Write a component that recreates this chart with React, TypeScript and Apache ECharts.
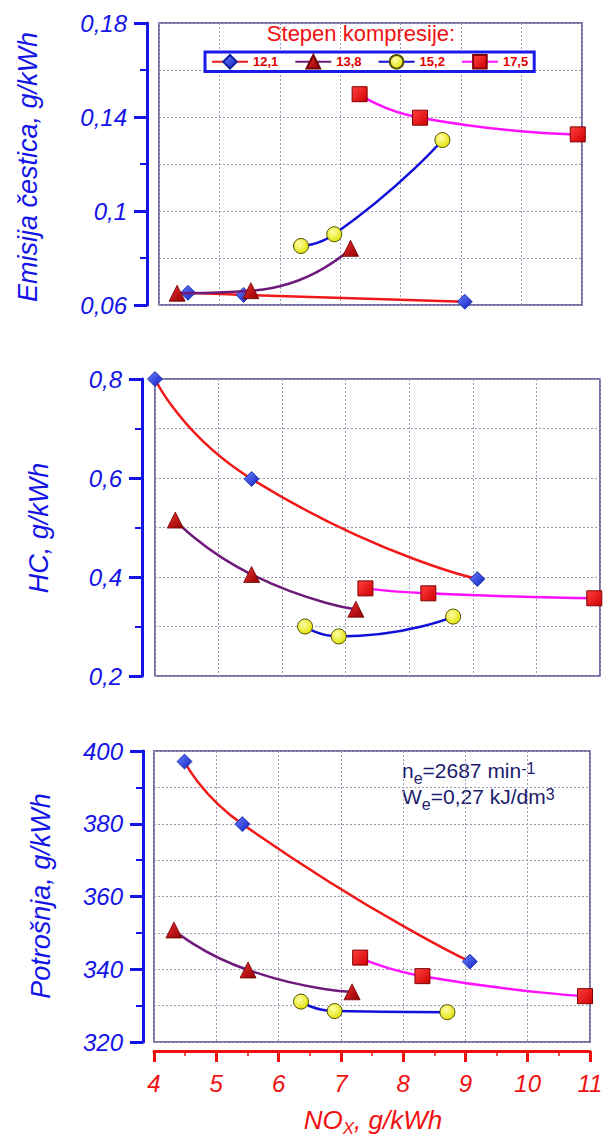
import React, { useEffect, useRef } from 'react';
import * as echarts from 'echarts';

// Compression ratios (legend)
const seriesNames = ['12,1', '13,8', '15,2', '17,5'];

// NOx values (x) and emissions for each chart, one row per compression ratio
const pmNOx = [
  [4.48, 5.40, 9.06],
  [4.30, 5.52, 7.17],
  [6.35, 6.90, 8.69],
  [7.32, 8.32, 10.93],
];
const pmValues = [
  [0.0652, 0.0643, 0.0614],
  [0.0650, 0.0661, 0.0841],
  [0.0851, 0.0901, 0.1302],
  [0.1497, 0.1397, 0.1326],
];

const hcNOx = [
  [4.00, 5.52, 9.07],
  [4.32, 5.52, 7.16],
  [6.36, 6.89, 8.69],
  [7.31, 8.30, 10.91],
];
const hcValues = [
  [0.800, 0.598, 0.396],
  [0.515, 0.405, 0.335],
  [0.300, 0.280, 0.320],
  [0.377, 0.367, 0.357],
];

const fuelNOx = [
  [4.49, 5.42, 9.07],
  [4.32, 5.51, 7.18],
  [6.36, 6.90, 8.71],
  [7.31, 8.31, 10.92],
];
const fuelValues = [
  [397.1, 379.9, 342.1],
  [350.8, 339.8, 333.8],
  [331.1, 328.5, 328.2],
  [343.2, 338.1, 332.6],
];

const xTicks = [4, 5, 6, 7, 8, 9, 10, 11];

const FONT = '"Liberation Sans", Arial, sans-serif';
const BLUE = '#1414e6';
const RED = '#f01010';
const NAVY = '#44448c';
const GRID = '#9a9ab0';

const lineColors = ['#f01818', '#6e1a7a', '#1010d8', '#ff10ff'];
const symbols = ['diamond', 'triangle', 'circle', 'rect'];
const symbolSizes = [15, 16, 15, 15];
const markerStyles = [
  {
    color: { type: 'linear', x: 0, y: 0, x2: 1, y2: 1, colorStops: [{ offset: 0, color: '#6a80ff' }, { offset: 1, color: '#1020c0' }] },
    borderColor: '#1020a0', borderWidth: 0.8,
  },
  {
    color: { type: 'linear', x: 0, y: 0, x2: 1, y2: 1, colorStops: [{ offset: 0, color: '#f03030' }, { offset: 1, color: '#900000' }] },
    borderColor: '#700000', borderWidth: 0.8,
  },
  {
    color: { type: 'radial', x: 0.4, y: 0.35, r: 0.7, colorStops: [{ offset: 0, color: '#ffffa8' }, { offset: 1, color: '#e0e000' }] },
    borderColor: '#505000', borderWidth: 1,
  },
  {
    color: { type: 'linear', x: 0, y: 0, x2: 1, y2: 1, colorStops: [{ offset: 0, color: '#ff4040' }, { offset: 1, color: '#d00000' }] },
    borderColor: '#800000', borderWidth: 1,
  },
];

const grids = [
  { left: 159, top: 23, width: 423, height: 282 },
  { left: 155, top: 379, width: 445, height: 297 },
  { left: 154, top: 751, width: 436, height: 291 },
];

const yRanges = [
  { min: 0.06, max: 0.18, interval: 0.04, offset: 12 },
  { min: 0.2, max: 0.8, interval: 0.2, offset: 13 },
  { min: 320, max: 400, interval: 20, offset: 11 },
];

const fmt = (v: number) => String(+v.toFixed(2)).replace('.', ',');

export default function App() {
  const ref = useRef<HTMLDivElement>(null);

  useEffect(() => {
    const chart = echarts.init(ref.current!, null, { renderer: 'svg' });

    const dashed = { show: true, lineStyle: { color: GRID, type: [2, 2], width: 1 } };

    const xAxis = grids.map((_, i) => {
      const bottom = i === 2;
      return {
        type: 'value',
        gridIndex: i,
        min: xTicks[0],
        max: xTicks[xTicks.length - 1],
        interval: 1,
        position: 'bottom',
        offset: bottom ? 9 : 0,
        axisLine: { show: bottom, onZero: false, lineStyle: { color: RED, width: 3 } },
        axisTick: { show: bottom, length: 11, lineStyle: { color: RED, width: 3 } },
        minorTick: { show: bottom, splitNumber: 2, length: 5, lineStyle: { color: RED, width: 1.5 } },
        axisLabel: {
          show: bottom, color: RED, fontStyle: 'italic', fontSize: 24, fontFamily: FONT, margin: 20,
        },
        splitLine: dashed,
      };
    });

    const yAxis = grids.map((_, i) => ({
      type: 'value',
      gridIndex: i,
      min: yRanges[i].min,
      max: yRanges[i].max,
      interval: yRanges[i].interval,
      offset: yRanges[i].offset,
      axisLine: { show: true, onZero: false, lineStyle: { color: BLUE, width: 3 } },
      axisTick: { show: true, length: 13, lineStyle: { color: BLUE, width: 3 } },
      minorTick: { show: true, splitNumber: 2, length: 7, lineStyle: { color: BLUE, width: 2 } },
      axisLabel: {
        color: BLUE, fontStyle: 'italic', fontSize: 24, fontFamily: FONT, margin: 20,
        formatter: (v: number) => fmt(v),
      },
      splitLine: dashed,
      minorSplitLine: dashed,
    }));

    const datasets = [
      [pmNOx, pmValues],
      [hcNOx, hcValues],
      [fuelNOx, fuelValues],
    ];

    const series: any[] = [];
    datasets.forEach(([xs, ys], g) => {
      seriesNames.forEach((name, k) => {
        series.push({
          type: 'line',
          name,
          xAxisIndex: g,
          yAxisIndex: g,
          data: xs[k].map((x, j) => [x, ys[k][j]]),
          smooth: 0.6,
          symbol: symbols[k],
          symbolSize: symbolSizes[k],
          showAllSymbol: true,
          lineStyle: { color: lineColors[k], width: 2.5 },
          itemStyle: markerStyles[k],
          emphasis: { disabled: true },
          z: 3 + k,
        });
      });
    });

    const annoColor = '#1c1c6c';

    const option: any = {
      animation: false,
      backgroundColor: '#ffffff',
      grid: grids.map((g) => ({ ...g, show: true, borderColor: NAVY, borderWidth: 1.5, backgroundColor: 'transparent' })),
      xAxis,
      yAxis,
      legend: {
        left: 205,
        top: 52,
        orient: 'horizontal',
        itemWidth: 36,
        itemHeight: 17,
        itemGap: 16,
        padding: [2, 6],
        borderColor: '#1a1ae6',
        borderWidth: 3,
        backgroundColor: '#ffffff',
        textStyle: { color: '#e00000', fontWeight: 'bold', fontSize: 13, fontFamily: FONT },
        data: seriesNames,
        selectedMode: false,
      },
      graphic: [
        {
          type: 'text', x: 361, y: 33,
          style: { text: 'Stepen kompresije:', fill: '#ee1111', fontSize: 22, fontFamily: FONT, align: 'center', verticalAlign: 'middle' },
        },
        {
          type: 'text', x: 28, y: 167, rotation: Math.PI / 2,
          style: { text: 'Emisija čestica, g/kWh', fill: BLUE, fontSize: 27, fontStyle: 'italic', fontFamily: FONT, align: 'center', verticalAlign: 'middle' },
        },
        {
          type: 'text', x: 39, y: 528, rotation: Math.PI / 2,
          style: { text: 'HC, g/kWh', fill: BLUE, fontSize: 27, fontStyle: 'italic', fontFamily: FONT, align: 'center', verticalAlign: 'middle' },
        },
        {
          type: 'text', x: 41, y: 896, rotation: Math.PI / 2,
          style: { text: 'Potrošnja, g/kWh', fill: BLUE, fontSize: 27, fontStyle: 'italic', fontFamily: FONT, align: 'center', verticalAlign: 'middle' },
        },
        {
          type: 'text', x: 373, y: 1122,
          style: {
            text: '{b|NO}{s|X}{b|, g/kWh}',
            align: 'center', verticalAlign: 'middle',
            rich: {
              b: { fill: RED, fontSize: 26, fontStyle: 'italic', fontFamily: FONT, lineHeight: 30, verticalAlign: 'top' },
              s: { fill: RED, fontSize: 17, fontStyle: 'italic', fontFamily: FONT, verticalAlign: 'bottom' },
            },
          },
        },
        {
          type: 'text', x: 402, y: 786,
          style: {
            text: '{b|n}{s|e}{b|=2687 min}{p|-1}\n{b|W}{s|e}{b|=0,27 kJ/dm}{p|3}',
            align: 'left', verticalAlign: 'middle',
            rich: {
              b: { fill: annoColor, fontSize: 21, fontFamily: FONT, lineHeight: 26, verticalAlign: 'top' },
              s: { fill: annoColor, fontSize: 16, fontFamily: FONT, verticalAlign: 'bottom' },
              p: { fill: annoColor, fontSize: 16, fontFamily: FONT, verticalAlign: 'top' },
            },
          },
        },
      ],
      series,
    };

    chart.setOption(option);
    return () => chart.dispose();
  }, []);

  return (
    <div
      ref={ref}
      style={{ position: 'fixed', left: 0, top: 0, width: 611, height: 1138, background: '#ffffff' }}
    />
  );
}
